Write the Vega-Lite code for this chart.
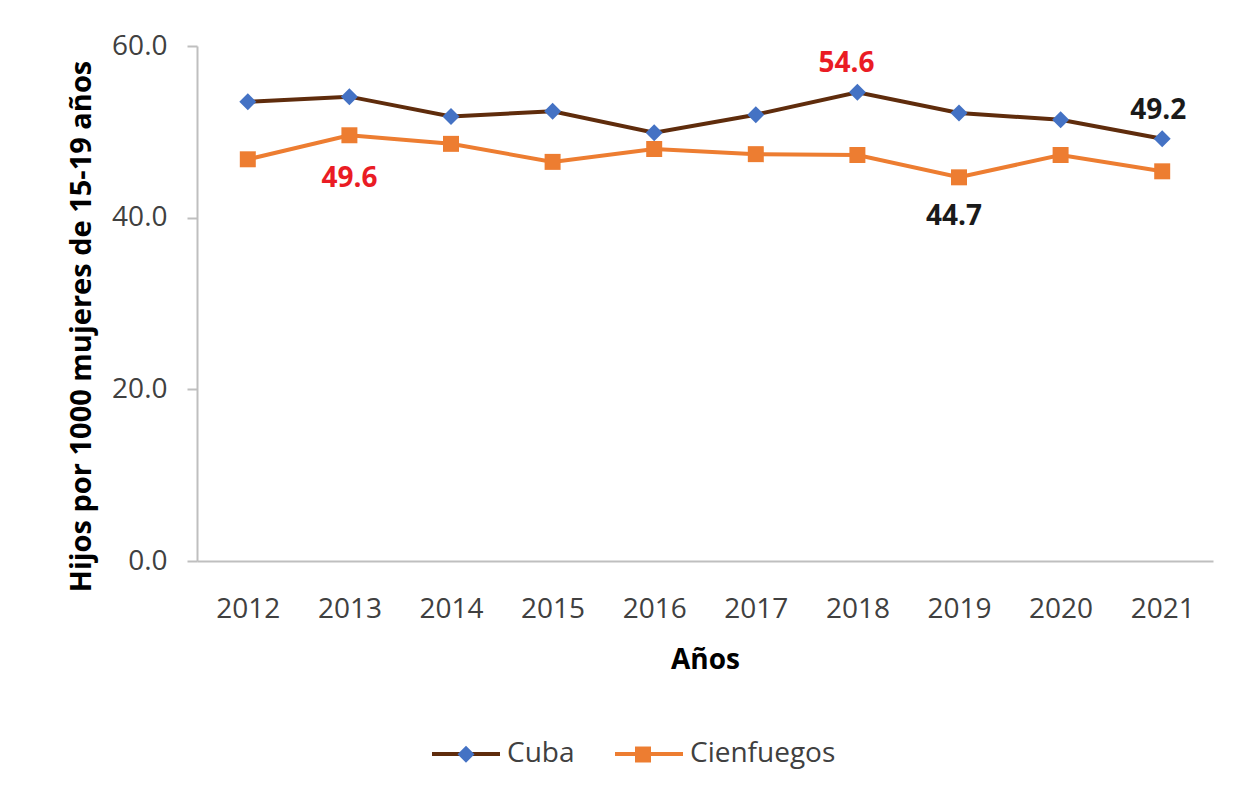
{
  "$schema": "https://vega.github.io/schema/vega-lite/v6.json",
  "width": 1016,
  "height": 515,
  "autosize": {"type": "none"},
  "padding": {"left": 197, "top": 46, "right": 22, "bottom": 238},
  "background": "white",
  "config": {"font": "Open Sans", "view": {"stroke": null}},
  "data": {
    "values": [
      {"anio": "2012", "serie": "Cuba", "valor": 53.5},
      {"anio": "2013", "serie": "Cuba", "valor": 54.1},
      {"anio": "2014", "serie": "Cuba", "valor": 51.8},
      {"anio": "2015", "serie": "Cuba", "valor": 52.4},
      {"anio": "2016", "serie": "Cuba", "valor": 49.9},
      {"anio": "2017", "serie": "Cuba", "valor": 52.0},
      {"anio": "2018", "serie": "Cuba", "valor": 54.6},
      {"anio": "2019", "serie": "Cuba", "valor": 52.2},
      {"anio": "2020", "serie": "Cuba", "valor": 51.4},
      {"anio": "2021", "serie": "Cuba", "valor": 49.2},
      {"anio": "2012", "serie": "Cienfuegos", "valor": 46.8},
      {"anio": "2013", "serie": "Cienfuegos", "valor": 49.6},
      {"anio": "2014", "serie": "Cienfuegos", "valor": 48.6},
      {"anio": "2015", "serie": "Cienfuegos", "valor": 46.5},
      {"anio": "2016", "serie": "Cienfuegos", "valor": 48.0},
      {"anio": "2017", "serie": "Cienfuegos", "valor": 47.4},
      {"anio": "2018", "serie": "Cienfuegos", "valor": 47.3},
      {"anio": "2019", "serie": "Cienfuegos", "valor": 44.7},
      {"anio": "2020", "serie": "Cienfuegos", "valor": 47.3},
      {"anio": "2021", "serie": "Cienfuegos", "valor": 45.4}
    ]
  },
  "encoding": {
    "x": {
      "field": "anio",
      "type": "ordinal",
      "sort": null,
      "scale": {"type": "point", "padding": 0.5},
      "axis": {
        "title": "Años",
        "labelAngle": 0,
        "ticks": false,
        "domainColor": "#bfbfbf",
        "domainWidth": 2,
        "labelFontSize": 28,
        "labelColor": "#404040",
        "labelPadding": 34,
        "titleFontSize": 28,
        "titleFontWeight": "bold",
        "titleColor": "#000000",
        "titleBaseline": "middle",
        "titleY": 99
      }
    },
    "y": {
      "field": "valor",
      "type": "quantitative",
      "scale": {"domain": [0, 60], "nice": false},
      "axis": {
        "title": "Hijos por 1000 mujeres de 15-19 años",
        "values": [0, 20, 40, 60],
        "format": ".1f",
        "grid": false,
        "domainColor": "#bfbfbf",
        "domainWidth": 2,
        "tickColor": "#bfbfbf",
        "tickWidth": 2,
        "tickSize": 10,
        "labelFontSize": 28,
        "labelColor": "#404040",
        "labelPadding": 20,
        "titleFontSize": 29,
        "titleFontWeight": "bold",
        "titleColor": "#000000",
        "titleAngle": 270,
        "titleAlign": "center",
        "titleBaseline": "middle",
        "titleX": -116,
        "titleY": 280
      }
    }
  },
  "layer": [
    {
      "mark": {"type": "line", "strokeWidth": 4},
      "encoding": {
        "stroke": {
          "field": "serie",
          "type": "nominal",
          "scale": {"domain": ["Cuba", "Cienfuegos"], "range": ["#5f2c0c", "#ed7d31"]},
          "legend": {
            "orient": "none",
            "legendX": 233,
            "legendY": 672,
            "direction": "horizontal",
            "title": null,
            "symbolType": "stroke",
            "symbolSize": 4624,
            "symbolStrokeWidth": 4,
            "labelFontSize": 28,
            "labelColor": "#404040",
            "labelOffset": 5,
            "columnPadding": 32,
            "zindex": 0
          }
        }
      }
    },
    {
      "mark": {"type": "point", "filled": true, "size": 4624, "opacity": 1, "strokeWidth": 0},
      "encoding": {
        "color": {
          "field": "serie",
          "type": "nominal",
          "sort": ["Cuba", "Cienfuegos"],
          "scale": {"range": ["#4472c4", "#ed7d31"]},
          "legend": null
        },
        "shape": {
          "field": "serie",
          "type": "nominal",
          "sort": ["Cuba", "Cienfuegos"],
          "scale": {"range": ["M0,-0.25L0.25,0L0,0.25L-0.25,0Z", "M-0.235,-0.235H0.235V0.235H-0.235Z"]},
          "legend": {
            "orient": "none",
            "legendX": 233,
            "legendY": 672,
            "direction": "horizontal",
            "title": null,
            "symbolSize": 4624,
            "symbolStrokeWidth": 4,
            "symbolStrokeColor": "transparent",
            "labelFontSize": 28,
            "labelOpacity": 0,
            "labelOffset": 5,
            "columnPadding": 32,
            "zindex": 1,
            "encoding": {
              "symbols": {
                "fill": {"value": {"expr": "datum.value === 'Cuba' ? '#4472c4' : '#ed7d31'"}},
                "stroke": {"value": "transparent"},
                "opacity": {"value": 1}
              }
            }
          }
        }
      }
    },
    {
      "transform": [{"filter": "datum.anio === '2018' && datum.serie === 'Cuba'"}],
      "mark": {"type": "text", "fontSize": 28, "fontWeight": "bold", "color": "#ea1c24", "dx": -11, "dy": -28, "baseline": "middle"},
      "encoding": {"text": {"field": "valor", "type": "quantitative", "format": ".1f"}}
    },
    {
      "transform": [{"filter": "datum.anio === '2021' && datum.serie === 'Cuba'"}],
      "mark": {"type": "text", "fontSize": 28, "fontWeight": "bold", "color": "#1a1a1a", "dx": -4, "dy": -28, "baseline": "middle"},
      "encoding": {"text": {"field": "valor", "type": "quantitative", "format": ".1f"}}
    },
    {
      "transform": [{"filter": "datum.anio === '2013' && datum.serie === 'Cienfuegos'"}],
      "mark": {"type": "text", "fontSize": 28, "fontWeight": "bold", "color": "#ea1c24", "dx": 0, "dy": 44, "baseline": "middle"},
      "encoding": {"text": {"field": "valor", "type": "quantitative", "format": ".1f"}}
    },
    {
      "transform": [{"filter": "datum.anio === '2019' && datum.serie === 'Cienfuegos'"}],
      "mark": {"type": "text", "fontSize": 28, "fontWeight": "bold", "color": "#1a1a1a", "dx": -5, "dy": 40, "baseline": "middle"},
      "encoding": {"text": {"field": "valor", "type": "quantitative", "format": ".1f"}}
    }
  ]
}
